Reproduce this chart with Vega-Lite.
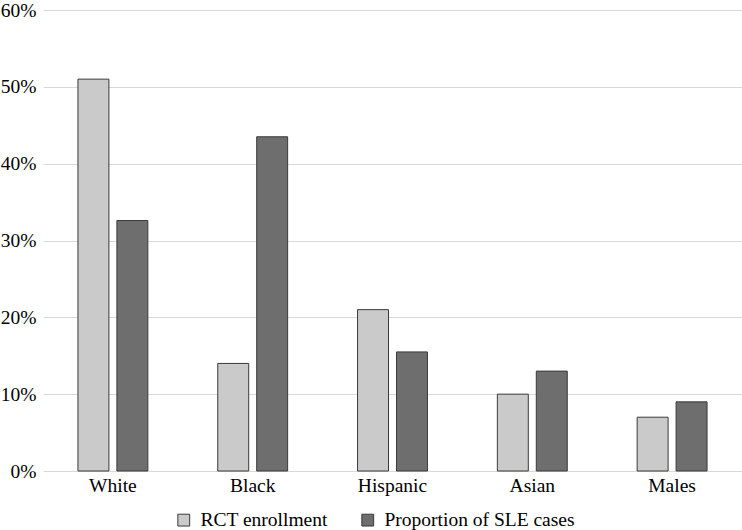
{
  "$schema": "https://vega.github.io/schema/vega-lite/v6.json",
  "width": 699,
  "height": 461,
  "autosize": {"type": "none"},
  "padding": {"left": 43, "top": 10, "right": 0, "bottom": 59},
  "background": "white",
  "data": {
    "values": [
      {"group": "White", "series": "RCT enrollment", "value": 0.51},
      {"group": "White", "series": "Proportion of SLE cases", "value": 0.326},
      {"group": "Black", "series": "RCT enrollment", "value": 0.14},
      {"group": "Black", "series": "Proportion of SLE cases", "value": 0.435},
      {"group": "Hispanic", "series": "RCT enrollment", "value": 0.21},
      {"group": "Hispanic", "series": "Proportion of SLE cases", "value": 0.155},
      {"group": "Asian", "series": "RCT enrollment", "value": 0.10},
      {"group": "Asian", "series": "Proportion of SLE cases", "value": 0.13},
      {"group": "Males", "series": "RCT enrollment", "value": 0.07},
      {"group": "Males", "series": "Proportion of SLE cases", "value": 0.09}
    ]
  },
  "mark": {"type": "bar", "stroke": "#3a3a3a", "strokeWidth": 1},
  "encoding": {
    "x": {
      "field": "group",
      "type": "nominal",
      "sort": ["White", "Black", "Hispanic", "Asian", "Males"],
      "scale": {"paddingInner": 0.5, "paddingOuter": 0.25},
      "axis": {
        "title": null,
        "labelAngle": 0,
        "ticks": false,
        "domain": false,
        "labelPadding": 5,
        "labelFont": "Liberation Serif",
        "labelFontSize": 19.5,
        "labelColor": "#000000"
      }
    },
    "xOffset": {
      "field": "series",
      "type": "nominal",
      "sort": ["RCT enrollment", "Proportion of SLE cases"],
      "scale": {"paddingInner": 0.205, "paddingOuter": 0}
    },
    "y": {
      "field": "value",
      "type": "quantitative",
      "scale": {"domain": [0, 0.6], "nice": false},
      "axis": {
        "title": null,
        "values": [0, 0.1, 0.2, 0.3, 0.4, 0.5, 0.6],
        "format": ".0%",
        "ticks": false,
        "domain": false,
        "grid": true,
        "gridColor": "#d9d9d9",
        "gridWidth": 1,
        "labelPadding": 7,
        "labelFont": "Liberation Serif",
        "labelFontSize": 19.5,
        "labelColor": "#000000"
      }
    },
    "fill": {
      "field": "series",
      "type": "nominal",
      "sort": ["RCT enrollment", "Proportion of SLE cases"],
      "scale": {
        "domain": ["RCT enrollment", "Proportion of SLE cases"],
        "range": ["#cacaca", "#6e6e6e"]
      },
      "legend": {
        "title": null,
        "orient": "none",
        "direction": "horizontal",
        "legendX": 131,
        "legendY": 500,
        "symbolType": "square",
        "symbolSize": 140,
        "symbolStrokeColor": "#3a3a3a",
        "symbolStrokeWidth": 1,
        "labelFont": "Liberation Serif",
        "labelFontSize": 19.5,
        "labelColor": "#000000",
        "labelLimit": 400,
        "labelOffset": 7,
        "columnPadding": 30
      }
    }
  },
  "config": {
    "view": {"stroke": null}
  }
}
